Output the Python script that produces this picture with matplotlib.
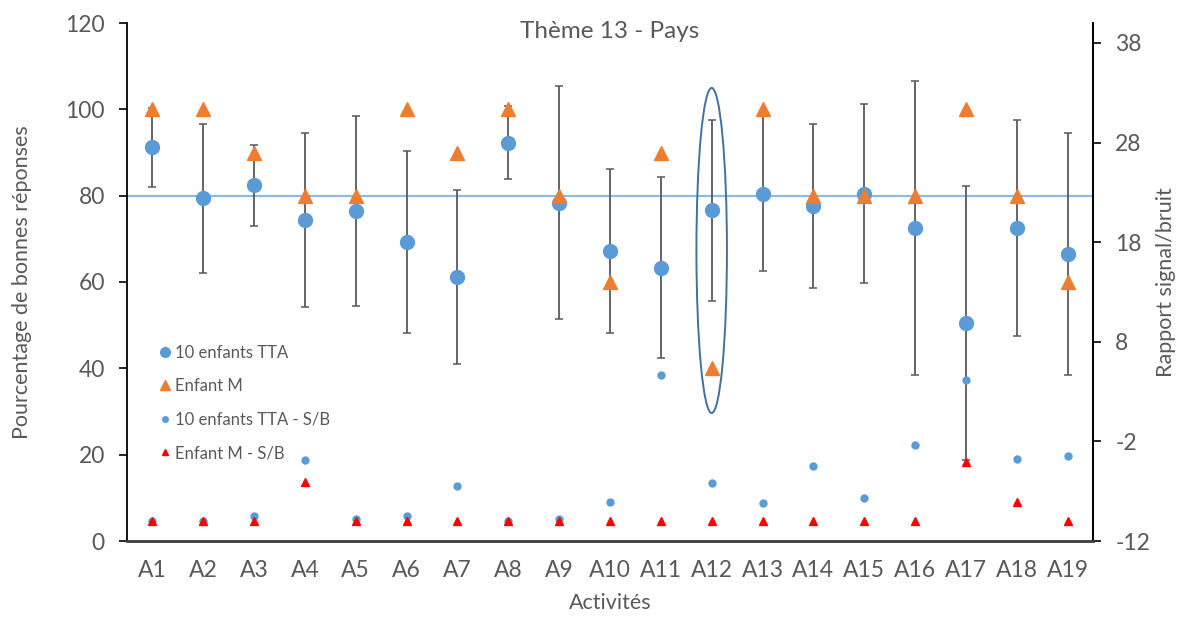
import numpy as np
import matplotlib
matplotlib.use("Agg")
import matplotlib.pyplot as plt
from matplotlib.patches import Ellipse

plt.rcParams['font.family'] = ['Lato', 'DejaVu Sans']
plt.rcParams['axes.unicode_minus'] = False

activites = ['A%d' % i for i in range(1, 20)]
tta = [91.2, 79.4, 82.4, 74.3, 76.4, 69.3, 61.1, 92.3, 78.4, 67.2,
       63.3, 76.6, 80.5, 77.6, 80.5, 72.5, 50.5, 72.5, 66.5]
tta_err = [9.1, 17.2, 9.4, 20.2, 22.0, 21.0, 20.1, 8.4, 27.0, 19.0,
           21.0, 21.0, 18.0, 19.1, 20.7, 34.0, 31.8, 25.0, 28.0]
enfant_m = [100, 100, 90, 80, 80, 100, 90, 100, 80, 60,
            90, 40, 100, 80, 80, 80, 100, 80, 60]
tta_sb = [-10, -10, -9.5, -3.9, -9.8, -9.5, -6.45, -10, -9.8, -8.05,
          4.7, -6.2, -8.2, -4.45, -7.65, -2.4, 4.2, -3.75, -3.45]
m_sb = [-10, -10, -10, -6.05, -10, -10, -10, -10, -10, -10,
        -10, -10, -10, -10, -10, -10, -4.05, -8.1, -10]
seuil = 80

grey = '#595959'
blue = '#5B9BD5'
orange = '#ED7D31'

x = np.arange(len(activites))

fig = plt.figure(figsize=(11.83, 6.18), dpi=100)
ax = fig.add_axes([127/1183, 77/618, 966/1183, 518/618])
ax2 = ax.twinx()

# seuil 80 %
ax.axhline(seuil, color='#8DBBE3', lw=1.6, zorder=1)

ax.errorbar(x, tta, yerr=tta_err, fmt='none', ecolor='#595959', elinewidth=1.3,
            capsize=3, capthick=1.1, zorder=2)
ax.plot(x, tta, 'o', color=blue, ms=10, ls='none', zorder=3, label='10 enfants TTA')
ax.plot(x, enfant_m, '^', color=orange, ms=10, ls='none', zorder=4, label='Enfant M')

ax.add_patch(Ellipse((11, 67.3), 0.6, 75.3, fill=False, ec='#41719C', lw=1.4, zorder=5))

ax2.plot(x, tta_sb, 'o', color=blue, ms=5, ls='none', label='10 enfants TTA - S/B')
ax2.plot(x, m_sb, '^', color='#FF0000', ms=6, ls='none', label='Enfant M - S/B')

ax.set_xlim(-0.5, len(activites) - 0.5)
ax.set_ylim(0, 120)
ax.set_yticks(np.arange(0, 121, 20))
ax2.set_ylim(-12, 40)
ax2.set_yticks(np.arange(-12, 39, 10))

ax.set_xticks(x)
ax.set_xticklabels(activites)
ax.tick_params(axis='x', length=0, pad=14, labelsize=16.5, labelcolor=grey)
ax.tick_params(axis='y', length=6, width=1.2, direction='out', pad=10, labelsize=16.5, labelcolor=grey)
ax2.tick_params(axis='y', length=6, width=1.2, direction='out', pad=10, labelsize=16.5, labelcolor=grey)

for a in (ax, ax2):
    a.spines['top'].set_visible(False)
    a.spines['left'].set_color('black')
    a.spines['left'].set_linewidth(1.3)
    a.spines['right'].set_color('black')
    a.spines['right'].set_linewidth(1.3)
    a.spines['bottom'].set_color('#404040')
    a.spines['bottom'].set_linewidth(1.8)
ax2.spines['left'].set_visible(False)

ax.set_xlabel('Activités', fontsize=15.5, color=grey, labelpad=8)
ax.set_ylabel('Pourcentage de bonnes réponses', fontsize=15.5, color=grey, labelpad=24)
ax2.set_ylabel('Rapport signal/bruit', fontsize=15.5, color=grey, labelpad=4)

ax.text(0.5, 1 - 9/518, 'Thème 13 - Pays', transform=ax.transAxes, ha='center', va='center',
        fontsize=17.5, color=grey)

h1, l1 = ax.get_legend_handles_labels()
h2, l2 = ax2.get_legend_handles_labels()
leg = ax2.legend(h1 + h2, l1 + l2, loc='upper left', bbox_to_anchor=(150/1183, 1 - 338/618),
                 bbox_transform=fig.transFigure, frameon=False, fontsize=12,
                 handletextpad=0.1, handlelength=1.0, labelspacing=1.05, borderaxespad=0)
for t in leg.get_texts():
    t.set_color(grey)
for hnd, ms in zip(leg.legend_handles, [7, 7, 4, 5]):
    hnd.set_markersize(ms)

fig.savefig('out.png', dpi=100)
